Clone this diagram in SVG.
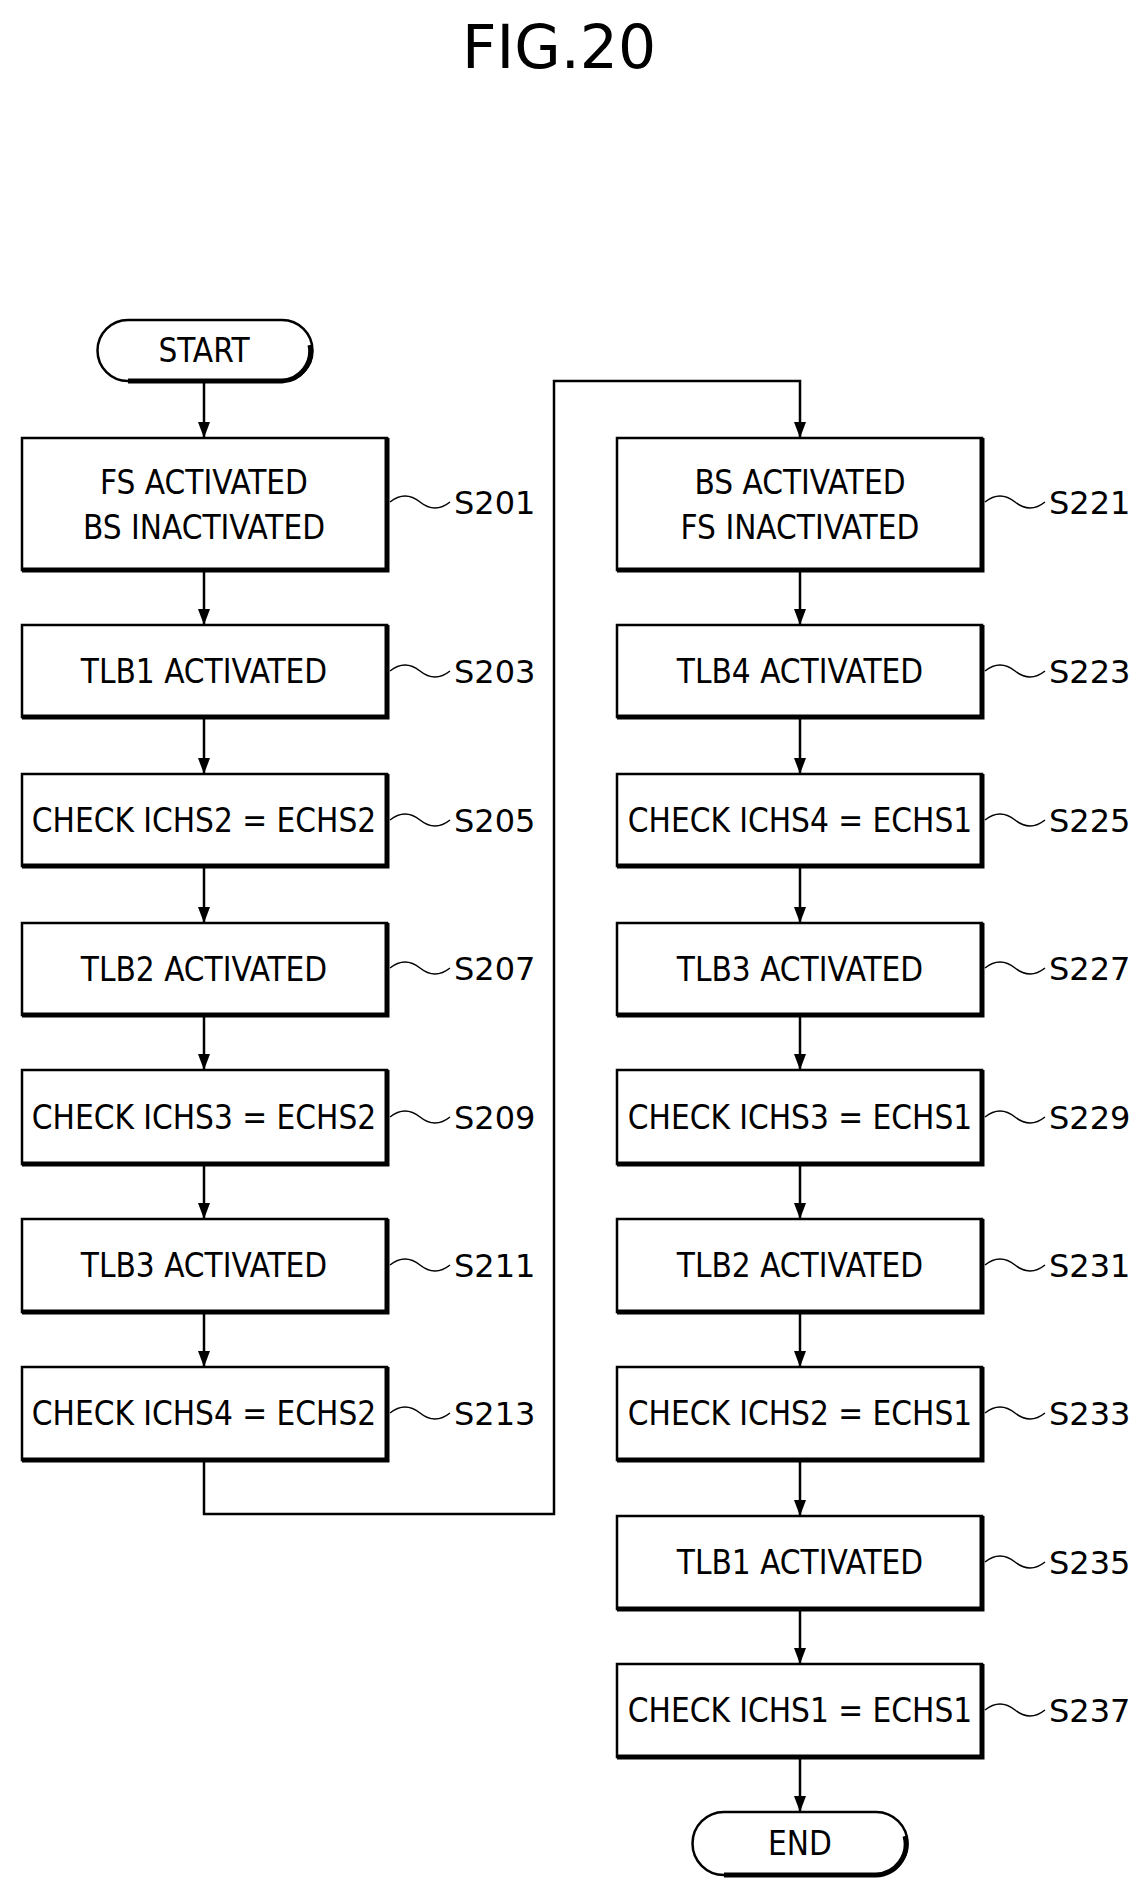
<svg xmlns="http://www.w3.org/2000/svg" width="1143" height="1889" viewBox="0 0 1143 1889">
<style>
.b{fill:#fff;stroke:#000;stroke-width:2.5}
.s{fill:none;stroke:#000;stroke-width:5}
.t{font-family:"DejaVu Sans Condensed","DejaVu Sans",sans-serif;font-size:33px;text-anchor:middle;fill:#000}
.l{font-family:"DejaVu Sans","Liberation Sans",sans-serif;font-size:32px;fill:#000}
.w{fill:none;stroke:#000;stroke-width:1.5}
.c{fill:none;stroke:#000;stroke-width:2.5}
</style>
<defs>
<marker id="a" markerWidth="10" markerHeight="14" refX="5" refY="14" orient="auto-start-reverse" markerUnits="userSpaceOnUse" viewBox="0 0 10 14"><path d="M0,0 L10,0 L5,14 Z" transform="rotate(0)"/></marker>
<marker id="d" markerWidth="12" markerHeight="16" refX="6" refY="16" markerUnits="userSpaceOnUse" viewBox="0 0 12 16"><path d="M0,0 L12,0 L6,16 Z"/></marker>
</defs>
<rect width="1143" height="1889" fill="#fff"/>
<text x="559" y="68" style="font-family:'DejaVu Sans',sans-serif;font-size:60px;text-anchor:middle">FIG.20</text>
<g id="connectors">
<line class="c" x1="204" y1="381" x2="204" y2="438" marker-end="url(#d)"/>
<line class="c" x1="204" y1="570" x2="204" y2="625" marker-end="url(#d)"/>
<line class="c" x1="204" y1="717" x2="204" y2="774" marker-end="url(#d)"/>
<line class="c" x1="204" y1="866" x2="204" y2="923" marker-end="url(#d)"/>
<line class="c" x1="204" y1="1015" x2="204" y2="1070" marker-end="url(#d)"/>
<line class="c" x1="204" y1="1164" x2="204" y2="1219" marker-end="url(#d)"/>
<line class="c" x1="204" y1="1312" x2="204" y2="1367" marker-end="url(#d)"/>
<polyline class="c" points="204,1460 204,1514 554,1514 554,381 800,381 800,438" marker-end="url(#d)"/>
<line class="c" x1="800" y1="570" x2="800" y2="625" marker-end="url(#d)"/>
<line class="c" x1="800" y1="717" x2="800" y2="774" marker-end="url(#d)"/>
<line class="c" x1="800" y1="866" x2="800" y2="923" marker-end="url(#d)"/>
<line class="c" x1="800" y1="1015" x2="800" y2="1070" marker-end="url(#d)"/>
<line class="c" x1="800" y1="1164" x2="800" y2="1219" marker-end="url(#d)"/>
<line class="c" x1="800" y1="1312" x2="800" y2="1367" marker-end="url(#d)"/>
<line class="c" x1="800" y1="1460" x2="800" y2="1516" marker-end="url(#d)"/>
<line class="c" x1="800" y1="1609" x2="800" y2="1664" marker-end="url(#d)"/>
<line class="c" x1="800" y1="1757" x2="800" y2="1812" marker-end="url(#d)"/>
</g>
<g id="start"><path class="b" d="M128,320 H282 A30,30 0 0 1 282,381 H128 A30,30 0 0 1 128,320 Z"/><path class="s" d="M128,381 H282 A30,30 0 0 0 310,345"/><text class="t" x="204" y="362">START</text></g>
<g id="end"><path class="b" d="M724,1812 H876 A31,31 0 0 1 876,1875 H724 A31,31 0 0 1 724,1812 Z"/><path class="s" d="M724,1875 H876 A31,31 0 0 0 905,1836"/><text class="t" x="800" y="1855">END</text></g>

<g id="S201"><rect class="b" x="22" y="438" width="365" height="132"/><path class="s" d="M22,570 H387 V438"/><text class="t" x="204" y="494">FS ACTIVATED</text><text class="t" x="204" y="539">BS INACTIVATED</text><path class="w" d="M390,502 q15,-12 30,0 t30,0"/><text class="l" x="454" y="514">S201</text></g>
<g id="S203"><rect class="b" x="22" y="625" width="365" height="92"/><path class="s" d="M22,717 H387 V625"/><text class="t" x="204" y="683">TLB1 ACTIVATED</text><path class="w" d="M390,671 q15,-12 30,0 t30,0"/><text class="l" x="454" y="683">S203</text></g>
<g id="S205"><rect class="b" x="22" y="774" width="365" height="92"/><path class="s" d="M22,866 H387 V774"/><text class="t" x="204" y="832">CHECK ICHS2 = ECHS2</text><path class="w" d="M390,820 q15,-12 30,0 t30,0"/><text class="l" x="454" y="832">S205</text></g>
<g id="S207"><rect class="b" x="22" y="923" width="365" height="92"/><path class="s" d="M22,1015 H387 V923"/><text class="t" x="204" y="981">TLB2 ACTIVATED</text><path class="w" d="M390,968 q15,-12 30,0 t30,0"/><text class="l" x="454" y="980">S207</text></g>
<g id="S209"><rect class="b" x="22" y="1070" width="365" height="94"/><path class="s" d="M22,1164 H387 V1070"/><text class="t" x="204" y="1129">CHECK ICHS3 = ECHS2</text><path class="w" d="M390,1117 q15,-12 30,0 t30,0"/><text class="l" x="454" y="1129">S209</text></g>
<g id="S211"><rect class="b" x="22" y="1219" width="365" height="93"/><path class="s" d="M22,1312 H387 V1219"/><text class="t" x="204" y="1277">TLB3 ACTIVATED</text><path class="w" d="M390,1265 q15,-12 30,0 t30,0"/><text class="l" x="454" y="1277">S211</text></g>
<g id="S213"><rect class="b" x="22" y="1367" width="365" height="93"/><path class="s" d="M22,1460 H387 V1367"/><text class="t" x="204" y="1425">CHECK ICHS4 = ECHS2</text><path class="w" d="M390,1413 q15,-12 30,0 t30,0"/><text class="l" x="454" y="1425">S213</text></g>

<g id="S221"><rect class="b" x="617" y="438" width="365" height="132"/><path class="s" d="M617,570 H982 V438"/><text class="t" x="800" y="494">BS ACTIVATED</text><text class="t" x="800" y="539">FS INACTIVATED</text><path class="w" d="M985,502 q15,-12 30,0 t30,0"/><text class="l" x="1049" y="514">S221</text></g>
<g id="S223"><rect class="b" x="617" y="625" width="365" height="92"/><path class="s" d="M617,717 H982 V625"/><text class="t" x="800" y="683">TLB4 ACTIVATED</text><path class="w" d="M985,671 q15,-12 30,0 t30,0"/><text class="l" x="1049" y="683">S223</text></g>
<g id="S225"><rect class="b" x="617" y="774" width="365" height="92"/><path class="s" d="M617,866 H982 V774"/><text class="t" x="800" y="832">CHECK ICHS4 = ECHS1</text><path class="w" d="M985,820 q15,-12 30,0 t30,0"/><text class="l" x="1049" y="832">S225</text></g>
<g id="S227"><rect class="b" x="617" y="923" width="365" height="92"/><path class="s" d="M617,1015 H982 V923"/><text class="t" x="800" y="981">TLB3 ACTIVATED</text><path class="w" d="M985,968 q15,-12 30,0 t30,0"/><text class="l" x="1049" y="980">S227</text></g>
<g id="S229"><rect class="b" x="617" y="1070" width="365" height="94"/><path class="s" d="M617,1164 H982 V1070"/><text class="t" x="800" y="1129">CHECK ICHS3 = ECHS1</text><path class="w" d="M985,1117 q15,-12 30,0 t30,0"/><text class="l" x="1049" y="1129">S229</text></g>
<g id="S231"><rect class="b" x="617" y="1219" width="365" height="93"/><path class="s" d="M617,1312 H982 V1219"/><text class="t" x="800" y="1277">TLB2 ACTIVATED</text><path class="w" d="M985,1265 q15,-12 30,0 t30,0"/><text class="l" x="1049" y="1277">S231</text></g>
<g id="S233"><rect class="b" x="617" y="1367" width="365" height="93"/><path class="s" d="M617,1460 H982 V1367"/><text class="t" x="800" y="1425">CHECK ICHS2 = ECHS1</text><path class="w" d="M985,1413 q15,-12 30,0 t30,0"/><text class="l" x="1049" y="1425">S233</text></g>
<g id="S235"><rect class="b" x="617" y="1516" width="365" height="93"/><path class="s" d="M617,1609 H982 V1516"/><text class="t" x="800" y="1574">TLB1 ACTIVATED</text><path class="w" d="M985,1562 q15,-12 30,0 t30,0"/><text class="l" x="1049" y="1574">S235</text></g>
<g id="S237"><rect class="b" x="617" y="1664" width="365" height="93"/><path class="s" d="M617,1757 H982 V1664"/><text class="t" x="800" y="1722">CHECK ICHS1 = ECHS1</text><path class="w" d="M985,1710 q15,-12 30,0 t30,0"/><text class="l" x="1049" y="1722">S237</text></g>
</svg>
